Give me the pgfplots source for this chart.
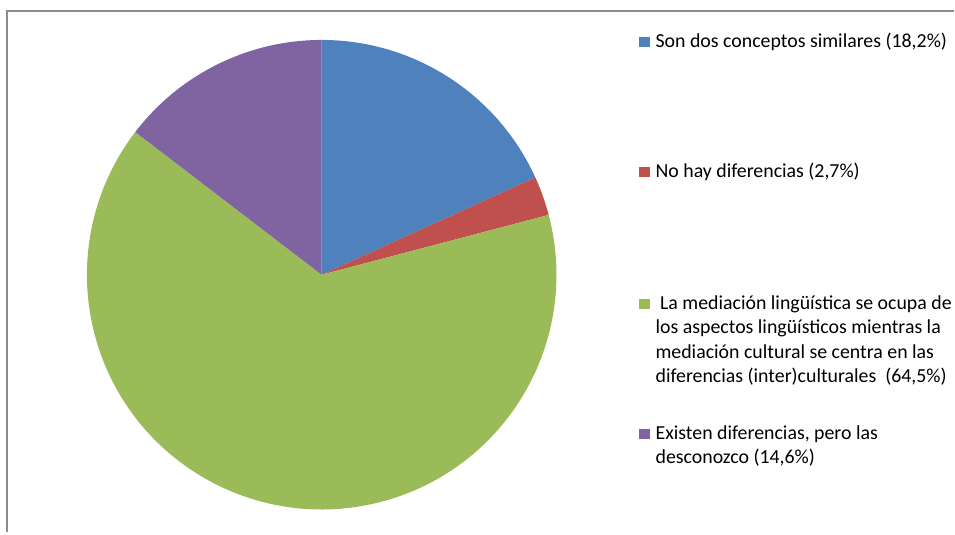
\documentclass[border=0pt]{standalone}
\usepackage{pgfplots}
\pgfplotsset{compat=1.18}
\usepackage{fontspec}
\setmainfont{Carlito}
\definecolor{sblue}{HTML}{4F81BD}
\definecolor{sred}{HTML}{C0504D}
\definecolor{sgreen}{HTML}{9BBB59}
\definecolor{spurple}{HTML}{8064A2}
\definecolor{frame}{HTML}{8C8C8C}
\begin{document}
\begin{tikzpicture}
\begin{axis}[
  width=716.25pt, height=399.75pt, scale only axis,
  xmin=0, xmax=955, ymin=0, ymax=533, y dir=reverse,
  hide axis, clip=false,
]
% full picture area
\path (axis cs:0,0) rectangle (axis cs:955,533);
% frame
\draw[frame, line width=1.5pt] (axis cs:7.5,533) -- (axis cs:7.5,11.5) -- (axis cs:955,11.5);
% pie slices: percentages 18.2, 2.7, 64.5, 14.6 (clockwise from 12 o'clock)
\fill[sblue]   (axis cs:322,275) -- ++(90:176.25pt) arc[start angle=90, delta angle={-3.6*18.2}, radius=176.25pt] -- cycle;
\fill[sred]    (axis cs:322,275) -- ++({90-3.6*18.2}:176.25pt) arc[start angle={90-3.6*18.2}, delta angle={-3.6*2.7}, radius=176.25pt] -- cycle;
\fill[sgreen]  (axis cs:322,275) -- ++({90-3.6*(18.2+2.7)}:176.25pt) arc[start angle={90-3.6*(18.2+2.7)}, delta angle={-3.6*64.5}, radius=176.25pt] -- cycle;
\fill[spurple] (axis cs:322,275) -- ++({90-3.6*(18.2+2.7+64.5)}:176.25pt) arc[start angle={90-3.6*(18.2+2.7+64.5)}, delta angle={-3.6*14.6}, radius=176.25pt] -- cycle;
% legend
\fill[sblue]   (axis cs:640,37) rectangle (axis cs:651,47.5);
\fill[sred]    (axis cs:640,167) rectangle (axis cs:651,177.5);
\fill[sgreen]  (axis cs:640,299) rectangle (axis cs:651,309.5);
\fill[spurple] (axis cs:640,429) rectangle (axis cs:651,439.5);
\begin{scope}[every node/.style={anchor=base west, inner sep=0pt, font=\fontsize{14.9}{17}\selectfont}]
\node at (axis cs:656,47.5) {Son dos conceptos similares (18,2\%)};
\node at (axis cs:656,177.5) {No hay diferencias (2,7\%)};
\node at (axis cs:656,309.5) {\ La mediación lingüística se ocupa de};
\node at (axis cs:656,334) {los aspectos lingüísticos mientras la};
\node at (axis cs:656,358.5) {mediación cultural se centra en las};
\node at (axis cs:656,383) {diferencias (inter)culturales\ \ (64,5\%)};
\node at (axis cs:656,439.5) {Existen diferencias, pero las};
\node at (axis cs:656,464) {desconozco (14,6\%)};
\end{scope}
\end{axis}
\end{tikzpicture}
\end{document}
